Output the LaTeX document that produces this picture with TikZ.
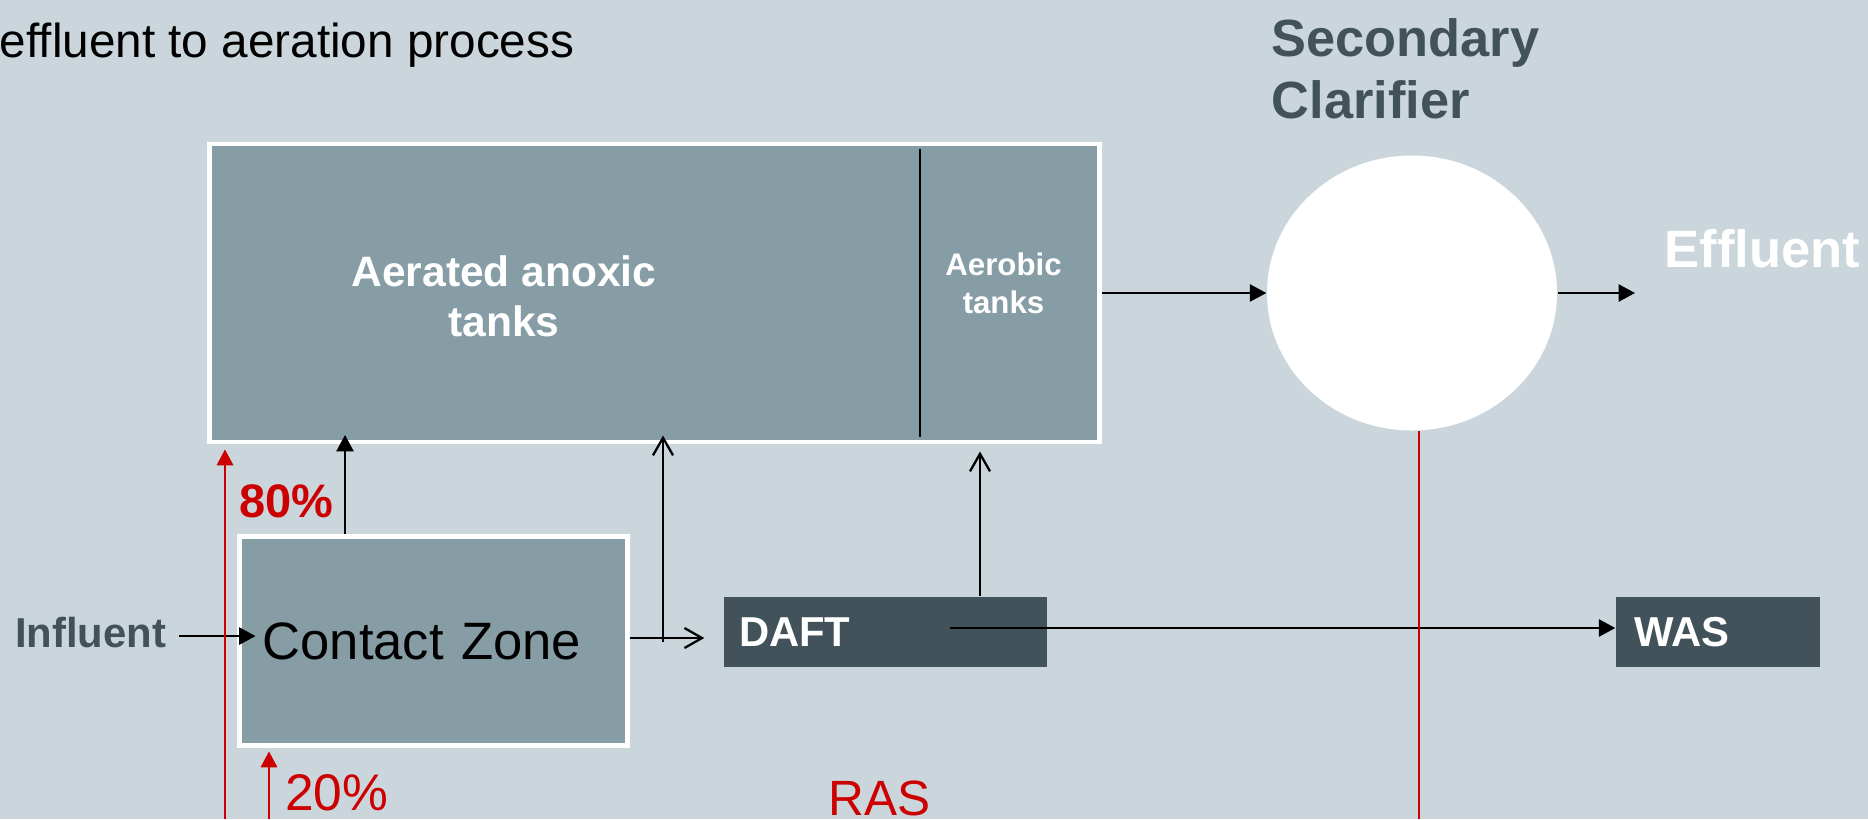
\documentclass[tikz,border=0pt]{standalone}
\usepackage{fontspec}
\setmainfont{Liberation Sans}
\usetikzlibrary{shapes.geometric, arrows.meta, positioning, calc}
\definecolor{bgblue}{RGB}{202, 214, 219}
\definecolor{tankgray}{RGB}{135, 157, 165}
\definecolor{slate}{RGB}{65, 82, 90}
\definecolor{rasred}{RGB}{204, 0, 0}
\newcommand{\sizept}[2]{\fontsize{#1pt}{#2pt}\selectfont}
\tikzset{
  tankbox/.style={draw=white, line width=1.4pt, fill=tankgray, inner sep=0pt},
  darkbox/.style={fill=slate, text=white, align=left, inner ysep=0pt, font=\bfseries\sizept{11.9}{14}},
  flow/.style={-{Triangle[length=4.7pt, width=4.9pt]}, line width=0.65pt},
  sideflow/.style={-{Straight Barb[length=5pt, width=5.7pt]}, line width=0.65pt},
  rasline/.style={rasred, line width=0.45pt},
  rasflow/.style={rasline, -{Triangle[length=4.5pt, width=4.7pt]}},
  lbl/.style={inner sep=0pt, anchor=base west},
}

\begin{document}
\begin{tikzpicture}
  % Background
  \fill[bgblue] (0,0) rectangle (18.68,-8.19);
  \useasboundingbox (0,0) rectangle (18.68,-8.19);

  % Title
  \node[lbl, anchor=base east, font=\sizept{13.57}{16}] (title) at (5.75,-0.57) {effluent to aeration process};

  % Aeration tanks
  \node[tankbox, minimum width=8.90cm, minimum height=2.98cm] (tanks) at (6.545,-2.93) {};
  \draw[line width=0.5pt] (9.20,-1.49) -- (9.20,-4.37);
  \node[font=\bfseries\sizept{12.1}{14.5}, text=white, align=center, inner sep=0pt] (anoxic) at (5.04,-2.963) {Aerated anoxic\\tanks};
  \node[font=\bfseries\sizept{8.88}{10.8}, text=white, align=center, inner sep=0pt] (aerobic) at (10.035,-2.829) {Aerobic\\tanks};

  % Secondary clarifier
  \node[ellipse, fill=white, minimum width=2.90cm, minimum height=2.75cm, inner sep=0pt] (clarifier) at (14.12,-2.93) {};
  \node[font=\bfseries\sizept{14.9}{17.6}, text=slate, align=left, inner sep=0pt, anchor=north west] (clarlabel) at (12.71,-0.18) {Secondary\\Clarifier};
  \node[lbl, font=\bfseries\sizept{14.94}{18}, text=white] (effluent) at (16.64,-2.67) {Effluent};

  % Contact zone and influent
  \node[tankbox, minimum width=3.88cm, minimum height=2.09cm, text width=3.42cm, align=left, font=\sizept{14.97}{18}] (contact) at (4.335,-6.41) {Contact Zone};
  \node[lbl, font=\bfseries\sizept{11.9}{14}, text=slate] (influent) at (0.145,-6.47) {Influent};

  % Thickener and waste
  \node[darkbox, minimum width=3.23cm, minimum height=0.70cm, text width=2.93cm] (daft) at (8.855,-6.32) {DAFT};
  \node[darkbox, minimum width=2.04cm, minimum height=0.70cm, text width=1.68cm] (was) at (17.18,-6.32) {WAS};

  % Flows
  \draw[flow] ($(influent.east)+(0.12,-0.04)$) -- ($(influent.east -| contact.west)+(0.185,-0.04)$);
  \coordinate (up80) at ($(contact.north)+(-0.885,0)$);
  \draw[flow] (up80) -- ($(up80 |- tanks.south)+(0,0.095)$);
  \coordinate (split) at (6.63,-6.38);
  \draw[sideflow] (contact.east |- split) -- ($(daft.west |- split)+(-0.19,0)$);
  \draw[sideflow] ($(split)+(0,-0.04)$) -- ($(split |- tanks.south)+(0,0.09)$);
  \coordinate (upaer) at ($(daft.north)+(0.945,0)$);
  \draw[sideflow] (upaer) -- ($(upaer |- tanks.south)+(0,-0.07)$);
  \draw[flow] ($(daft.center)+(0.645,0.04)$) -- ($(was.west)+(0,0.04)$);
  \draw[flow] (tanks.east) -- (clarifier.west);
  \draw[flow] (clarifier.east) -- ($(clarifier.east -| effluent.west)+(-0.29,0)$);

  % Return sludge
  \coordinate (rasleft) at (2.25,-8.19);
  \coordinate (rascontact) at (2.69,-8.19);
  \coordinate (rasdrop) at ($(clarifier.south)+(0.07,0)$);
  \draw[rasflow] (rasleft) -- ($(rasleft |- tanks.south)+(0,-0.05)$);
  \draw[rasflow] (rascontact) -- ($(rascontact |- contact.south)+(0,-0.035)$);
  \draw[rasline] (rasdrop) -- (rasdrop |- rasleft);
  \node[lbl, font=\bfseries\sizept{13.37}{16}, text=rasred] (pct80) at (2.39,-5.17) {80\%};
  \node[lbl, font=\sizept{14.65}{17}, text=rasred] (pct20) at (2.845,-8.10) {20\%};
  \node[lbl, font=\sizept{14.1}{17}, text=rasred] (ras) at (8.28,-8.15) {RAS};
\end{tikzpicture}
\end{document}
